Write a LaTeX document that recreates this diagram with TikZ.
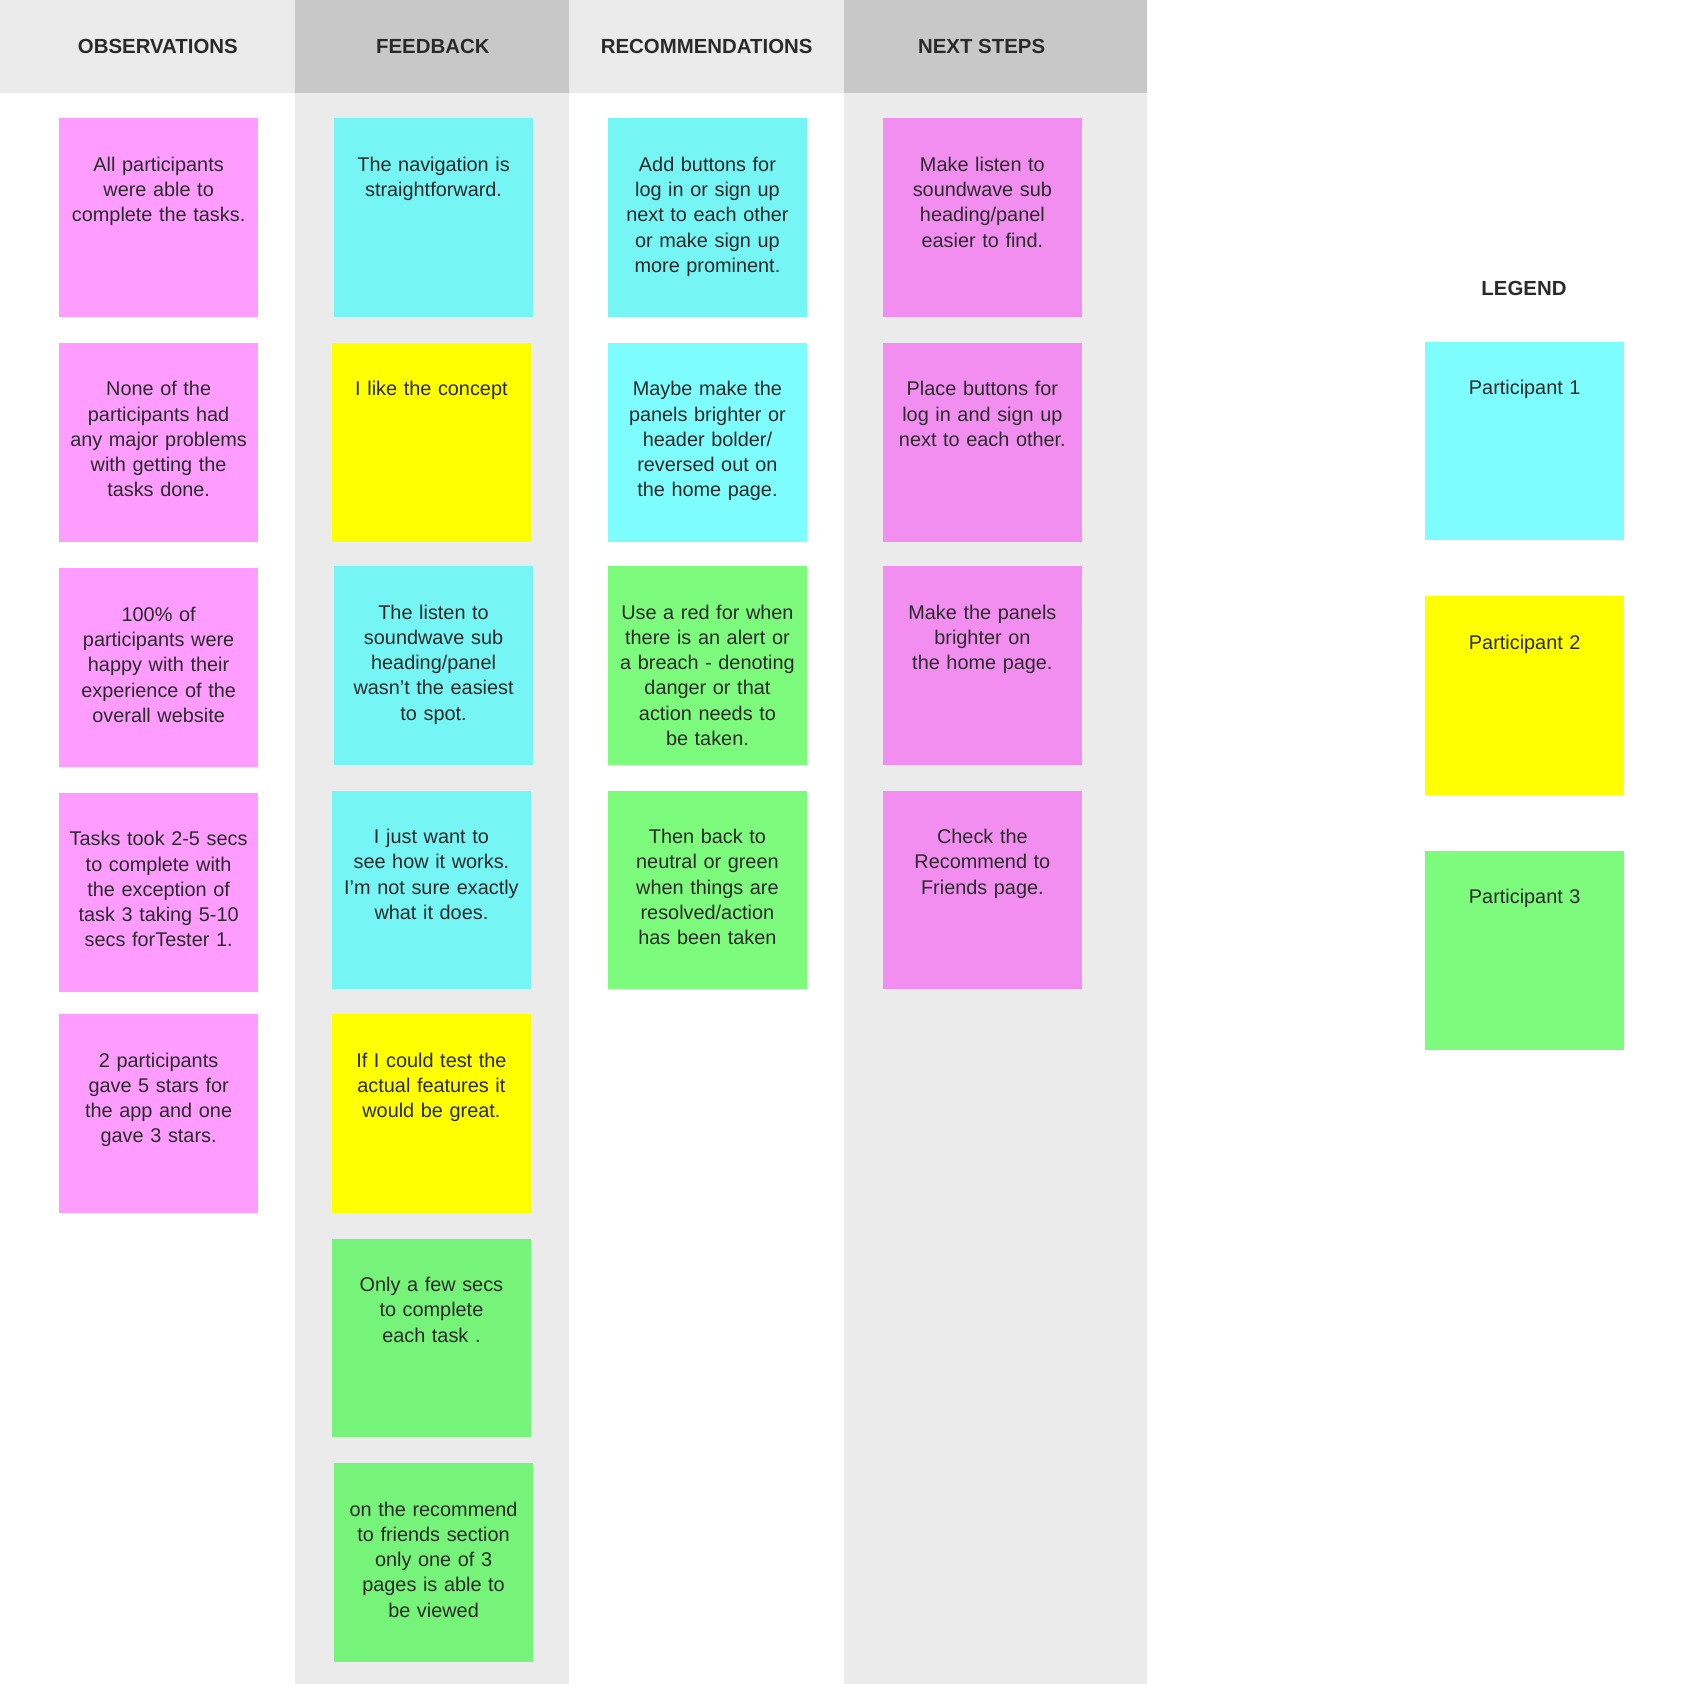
\documentclass[tikz,border=0pt]{standalone}
\usepackage{fontspec}
\setmainfont{Liberation Sans}
\definecolor{hlight}{HTML}{EBEBEB}
\definecolor{hdark}{HTML}{C8C8C8}
\definecolor{spink}{HTML}{FF9CFF}
\definecolor{spink2}{HTML}{F28EF0}
\definecolor{scyan}{HTML}{76F5F5}
\definecolor{scyan2}{HTML}{7DFDFD}
\definecolor{syellow}{HTML}{FFFF00}
\definecolor{sgreen}{HTML}{7DFB7D}
\definecolor{sgreen2}{HTML}{76F479}
\definecolor{ink}{HTML}{2A2A2A}
\tikzset{
 note/.style={minimum width=185pt,minimum height=185pt,anchor=north west,inner sep=0pt},
 txt/.style={anchor=north,text width=180pt,align=center,inner sep=0pt,text=ink,font=\fontsize{18.5}{23.5}\selectfont},
 head/.style={text=ink,font=\bfseries\fontsize{19}{22}\selectfont,inner sep=0pt}
}
\newcommand{\sticky}[5]{% name, x, y, color, text
 \node[note,fill=#4] (#1) at (#2,#3) {};
 \node[txt] (#1t) at ([yshift=-36pt]#1.north) {#5};}
\begin{document}
\begin{tikzpicture}[x=1pt,y=-1pt]
\useasboundingbox (0,0) rectangle (1568,1568);
\fill[white] (0,0) rectangle (1568,1568);
\fill[hlight] (0,0) rectangle (275,87);
\fill[hdark] (275,0) rectangle (530,87);
\fill[hlight] (275,87) rectangle (530,1568);
\fill[hlight] (530,0) rectangle (786,87);
\fill[hdark] (786,0) rectangle (1068,87);
\fill[hlight] (786,87) rectangle (1068,1568);
\node[head] (h1) at (147,43) {OBSERVATIONS};
\node[head] (h2) at (403,43) {FEEDBACK};
\node[head] (h3) at (658,43) {RECOMMENDATIONS};
\node[head] (h4) at (914,43) {NEXT STEPS};
\node[head] (h5) at (1419,269) {LEGEND};
\sticky{o1}{55}{110}{spink}{All participants\\were able to\\complete the tasks.}
\sticky{o2}{55}{319}{spink}{None of the\\participants had\\any major problems\\with getting the\\tasks done.}
\sticky{o3}{55}{529}{spink}{100\% of\\participants were\\happy with their\\experience of the\\overall website}
\sticky{o4}{55}{738}{spink}{Tasks took 2-5 secs\\to complete with\\the exception of\\task 3 taking 5-10\\secs forTester 1.}
\sticky{o5}{55}{944}{spink}{2 participants\\gave 5 stars for\\the app and one\\gave 3 stars.}
\sticky{f1}{311}{110}{scyan}{The navigation is\\straightforward.}
\sticky{f2}{309}{319}{syellow}{I like the concept}
\sticky{f3}{311}{527}{scyan}{The listen to\\soundwave sub\\heading/panel\\wasn't the easiest\\to spot.}
\sticky{f4}{309}{736}{scyan}{I just want to\\see how it works.\\I'm not sure exactly\\what it does.}
\sticky{f5}{309}{944}{syellow}{If I could test the\\actual features it\\would be great.}
\sticky{f6}{309}{1153}{sgreen2}{Only a few secs\\to complete\\each task .}
\sticky{f7}{311}{1362}{sgreen2}{on the recommend\\to friends section\\only one of 3\\pages is able to\\be viewed}
\sticky{r1}{566}{110}{scyan}{Add buttons for\\log in or sign up\\next to each other\\or make sign up\\more prominent.}
\sticky{r2}{566}{319}{scyan2}{Maybe make the\\panels brighter or\\header bolder/\\reversed out on\\the home page.}
\sticky{r3}{566}{527}{sgreen}{Use a red for when\\there is an alert or\\a breach - denoting\\danger or that\\action needs to\\be taken.}
\sticky{r4}{566}{736}{sgreen}{Then back to\\neutral or green\\when things are\\resolved/action\\has been taken}
\sticky{n1}{822}{110}{spink2}{Make listen to\\soundwave sub\\heading/panel\\easier to find.}
\sticky{n2}{822}{319}{spink2}{Place buttons for\\log in and sign up\\next to each other.}
\sticky{n3}{822}{527}{spink2}{Make the panels\\brighter on\\the home page.}
\sticky{n4}{822}{736}{spink2}{Check the\\Recommend to\\Friends page.}
\sticky{l1}{1327}{318}{scyan2}{Participant 1}
\sticky{l2}{1327}{555}{syellow}{Participant 2}
\sticky{l3}{1327}{792}{sgreen}{Participant 3}
\end{tikzpicture}
\end{document}
